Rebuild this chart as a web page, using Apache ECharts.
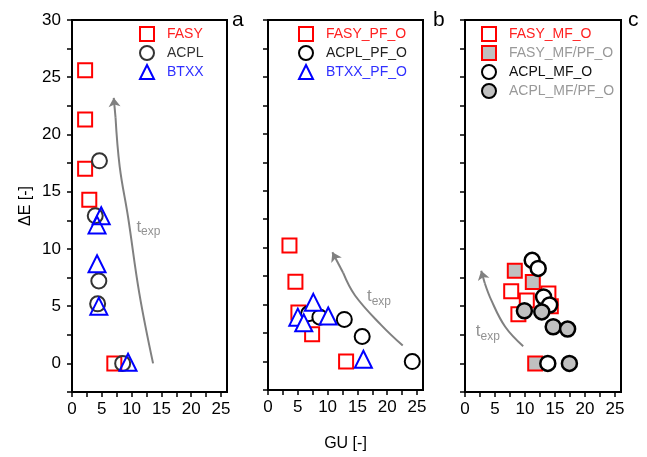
<!DOCTYPE html>
<html>
<head>
<meta charset="utf-8">
<script src="https://cdn.jsdelivr.net/npm/echarts@6/dist/echarts.min.js"></script>
<style>
  html, body { margin: 0; padding: 0; background: #fff; }
  #chart { width: 647px; height: 457px; }
</style>
</head>
<body>
<div id="chart"></div>
<script>
// axis ticks / labels
const xTickValues = [0, 2.5, 5, 7.5, 10, 12.5, 15, 17.5, 20, 22.5, 25];
const xLabelValues = [0, 5, 10, 15, 20, 25];
const yTickValues = [-2.5, 0, 2.5, 5, 7.5, 10, 12.5, 15, 17.5, 20, 22.5, 25, 27.5, 30];
const yLabelValues = [0, 5, 10, 15, 20, 25, 30];

// panel a: [GU, dE]
const fasyA = [[2.2, 25.6], [2.2, 21.3], [2.2, 17.0], [2.9, 14.3], [7.1, 0]];
const acplA = [[4.6, 17.7], [3.9, 12.9], [4.5, 7.2], [4.3, 5.2], [8.5, 0]];
const btxxA = [[4.9, 12.9], [4.2, 12.1], [4.2, 8.7], [4.5, 5.0], [9.4, 0.1]];

// panel b
const fasyB = [[3.6, 10.2], [4.6, 7.0], [5.1, 4.3], [7.4, 2.4], [13.1, 0]];
const acplB = [[6.8, 4.2], [8.7, 3.9], [12.8, 3.7], [15.8, 2.2], [24.2, 0]];
const btxxB = [[7.6, 5.2], [5.0, 3.9], [6.0, 3.4], [10.1, 4.0], [16.0, 0.2]];

// panel c
const fasyMfC = [[7.7, 6.3], [8.9, 4.3], [10.3, 5.5], [13.9, 6.1], [14.3, 5.0]];
const fasyMfPfC = [[8.3, 8.1], [11.3, 7.1], [11.7, 0]];
const acplMfC = [[11.2, 9.0], [12.2, 8.3], [13.1, 5.8], [14.1, 5.1], [13.8, 0]];
const acplMfPfC = [[9.9, 4.6], [12.8, 4.5], [14.7, 3.2], [17.1, 3.0], [17.4, 0]];

// t_exp arrows (body + tip segment) and label anchors
const arrowBodyA = [[13.6, 0], [11.3, 6.1], [9.4, 12.8], [8.0, 17.2], [7.3, 21.5]];
const arrowTipA = [[7.3, 21.5], [7.0, 23.2]];
const arrowBodyB = [[22.6, 1.4], [19.0, 3.2], [14.6, 5.8], [12.6, 7.8]];
const arrowTipB = [[12.6, 7.8], [10.8, 9.6]];
const arrowBodyC = [[9.7, 1.5], [6.7, 3.2], [4.4, 5.5], [3.3, 7.0]];
const arrowTipC = [[3.3, 7.0], [2.7, 8.1]];
const texpA = [[10.8, 11.9]];
const texpB = [[16.6, 5.7]];
const texpC = [[1.8, 2.8]];

const FONT = 'Liberation Sans';
const RED = '#ff0000';
const BLUE = '#0000ff';
const GRAY_FILL = '#c0c0c0';
const ARROW_GRAY = '#808080';

const chart = echarts.init(document.getElementById('chart'));

const grids = [
  { left: 72, top: 20, width: 155, height: 372 },
  { left: 268, top: 20, width: 155, height: 372 },
  { left: 465, top: 20, width: 156, height: 372 }
];

function makeX(i) {
  return {
    type: 'value',
    gridIndex: i,
    min: 0,
    max: 26,
    name: i === 1 ? 'GU [-]' : '',
    nameLocation: 'middle',
    nameGap: 46,
    nameTextStyle: { fontFamily: FONT, fontSize: 16, color: '#000' },
    axisLine: { show: true, onZero: false, lineStyle: { color: '#000', width: 2 } },
    axisTick: { show: true, inside: false, length: 5, customValues: xTickValues, lineStyle: { color: '#000', width: 1.5 } },
    axisLabel: { show: true, customValues: xLabelValues, margin: 9, fontFamily: FONT, fontSize: 17, color: '#000' },
    splitLine: { show: false }
  };
}

function makeY(i) {
  return {
    type: 'value',
    gridIndex: i,
    min: -2.5,
    max: 30,
    name: i === 0 ? 'ΔE [-]' : '',
    nameLocation: 'middle',
    nameRotate: 90,
    nameGap: 38,
    nameTextStyle: { fontFamily: FONT, fontSize: 16, color: '#000' },
    axisLine: { show: true, onZero: false, lineStyle: { color: '#000', width: 2 } },
    axisTick: { show: true, inside: false, length: 5, customValues: yTickValues, lineStyle: { color: '#000', width: 1.5 } },
    axisLabel: { show: i === 0, customValues: yLabelValues, margin: 11, fontFamily: FONT, fontSize: 17, color: '#000' },
    splitLine: { show: false }
  };
}

function scatter(name, data, gi, symbol, size, border, fill, bw) {
  return {
    name: name,
    type: 'scatter',
    xAxisIndex: gi,
    yAxisIndex: gi,
    data: data,
    symbol: symbol,
    symbolSize: size,
    itemStyle: { color: fill, borderColor: border, borderWidth: bw, opacity: 1 },
    emphasis: { disabled: true }
  };
}

function arrowSeries(body, tip, gi) {
  return [
    {
      type: 'line',
      xAxisIndex: gi,
      yAxisIndex: gi,
      data: body,
      smooth: 0.4,
      symbol: 'none',
      silent: true,
      lineStyle: { color: ARROW_GRAY, width: 2 },
      z: 1
    },
    {
      type: 'lines',
      coordinateSystem: 'cartesian2d',
      xAxisIndex: gi,
      yAxisIndex: gi,
      data: [{ coords: tip }],
      symbol: ['none', 'arrow'],
      symbolSize: 9,
      silent: true,
      lineStyle: { color: ARROW_GRAY, width: 2, opacity: 1 },
      z: 1
    }
  ];
}

function texpLabel(pos, gi) {
  return {
    type: 'scatter',
    xAxisIndex: gi,
    yAxisIndex: gi,
    data: pos,
    symbolSize: 0,
    silent: true,
    label: {
      show: true,
      position: 'right',
      distance: 0,
      formatter: '{t|t}{e|exp}',
      rich: {
        t: { fontFamily: FONT, fontSize: 17, color: '#777' },
        e: { fontFamily: FONT, fontSize: 12, color: '#777', verticalAlign: 'bottom', padding: [10, 0, 0, 0] }
      }
    }
  };
}

function legend(left, items) {
  return {
    left: left,
    top: 21,
    padding: 5,
    orient: 'vertical',
    itemWidth: 14,
    itemHeight: 14,
    itemGap: 3,
    selectedMode: false,
    textStyle: { fontFamily: FONT, fontSize: 14, lineHeight: 14, padding: [0, 0, 0, 8] },
    data: items.map(function (it) { return { name: it[0], textStyle: { color: it[1] } }; })
  };
}

const letterStyle = { fontFamily: FONT, fontSize: 21, fontWeight: 'normal', color: '#000' };

const option = {
  animation: false,
  backgroundColor: '#fff',
  grid: grids.map(function (g) {
    return Object.assign({ show: true, borderColor: '#000', borderWidth: 2, backgroundColor: 'transparent' }, g);
  }),
  xAxis: [makeX(0), makeX(1), makeX(2)],
  yAxis: [makeY(0), makeY(1), makeY(2)],
  title: [
    { text: 'a', left: 227, top: 5, textStyle: letterStyle },
    { text: 'b', left: 428, top: 5, textStyle: letterStyle },
    { text: 'c', left: 623, top: 5, textStyle: letterStyle }
  ],
  legend: [
    legend(134, [['FASY', '#ff2020'], ['ACPL', '#333'], ['BTXX', '#3030ff']]),
    legend(293, [['FASY_PF_O', '#ff2020'], ['ACPL_PF_O', '#222'], ['BTXX_PF_O', '#3030ff']]),
    legend(476, [['FASY_MF_O', '#ff2020'], ['FASY_MF/PF_O', '#999'], ['ACPL_MF_O', '#111'], ['ACPL_MF/PF_O', '#999']])
  ],
  series: [].concat(
    arrowSeries(arrowBodyA, arrowTipA, 0),
    arrowSeries(arrowBodyB, arrowTipB, 1),
    arrowSeries(arrowBodyC, arrowTipC, 2),
    [
      texpLabel(texpA, 0),
      texpLabel(texpB, 1),
      texpLabel(texpC, 2),
      scatter('FASY', fasyA, 0, 'rect', 14, RED, '#fff', 2),
      scatter('ACPL', acplA, 0, 'circle', 15, '#333', 'rgba(255,255,255,0)', 2),
      scatter('BTXX', btxxA, 0, 'triangle', 17, BLUE, 'rgba(255,255,255,0)', 2),
      scatter('FASY_PF_O', fasyB, 1, 'rect', 14, RED, '#fff', 2),
      scatter('ACPL_PF_O', acplB, 1, 'circle', 15, '#000', '#fff', 2),
      scatter('BTXX_PF_O', btxxB, 1, 'triangle', 17, BLUE, '#fff', 2),
      scatter('FASY_MF_O', fasyMfC, 2, 'rect', 14, RED, '#fff', 2),
      scatter('FASY_MF/PF_O', fasyMfPfC, 2, 'rect', 14, RED, GRAY_FILL, 2),
      scatter('ACPL_MF_O', acplMfC, 2, 'circle', 15, '#000', '#fff', 2.5),
      scatter('ACPL_MF/PF_O', acplMfPfC, 2, 'circle', 15, '#000', GRAY_FILL, 2.5)
    ]
  )
};

chart.setOption(option);
</script>
</body>
</html>
